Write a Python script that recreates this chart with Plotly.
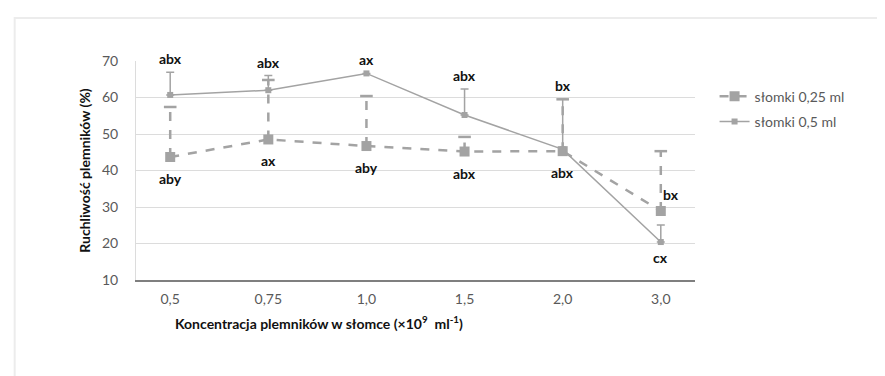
import plotly.graph_objects as go

# dane
stezenia = ["0,5", "0,75", "1,0", "1,5", "2,0", "3,0"]
slomki_025 = [43.7, 48.5, 46.7, 45.2, 45.3, 28.9]
blad_025 = [13.7, 16.3, 13.7, 4.0, 14.2, 16.4]
litery_025 = ["aby", "ax", "aby", "abx", "abx", "bx"]
slomki_05 = [60.7, 62.0, 66.6, 55.2, 45.8, 20.4]
blad_05 = [6.2, 4.0, 0.0, 7.1, 13.7, 4.7]
litery_05 = ["abx", "abx", "ax", "abx", "bx", "cx"]

szary = "#a3a3a3"
font = "Lato"

fig = go.Figure()

# słupki błędu dla 0,25 ml - przerywane
ex, ey = [], []
for k, v, e in zip(stezenia, slomki_025, blad_025):
    ex += [k, k, None]
    ey += [v, v + e, None]
fig.add_trace(go.Scatter(
    x=ex, y=ey, mode="lines", showlegend=False, hoverinfo="skip",
    line=dict(color=szary, width=2.5, dash="dash"),
))
fig.add_trace(go.Scatter(
    x=stezenia, y=[v + e for v, e in zip(slomki_025, blad_025)],
    mode="markers", showlegend=False, hoverinfo="skip",
    marker=dict(symbol="line-ew-open", size=9, color=szary, line=dict(width=2.5, color=szary)),
))

fig.add_trace(go.Scatter(
    x=stezenia, y=slomki_025, name="słomki 0,25 ml", mode="lines+markers",
    legendgroup="a",
    line=dict(color=szary, width=2.5, dash="dash"),
    marker=dict(symbol="square", size=10, color=szary),
))
fig.add_trace(go.Scatter(
    x=stezenia, y=slomki_05, name="słomki 0,5 ml", mode="lines+markers",
    legendgroup="b",
    line=dict(color=szary, width=1.5),
    marker=dict(symbol="square", size=6, color=szary),
    error_y=dict(type="data", array=blad_05, symmetric=False, arrayminus=[0] * 6,
                 color=szary, thickness=1.5, width=4),
))

# litery istotności
for i, (k, v, e, t) in enumerate(zip(stezenia, slomki_05, blad_05, litery_05)):
    if i == len(stezenia) - 1:
        fig.add_annotation(x=k, y=v, text=t, showarrow=False, yanchor="top", yshift=-5)
    else:
        fig.add_annotation(x=k, y=v + e, text=t, showarrow=False, yanchor="bottom", yshift=3)
for i, (k, v, t) in enumerate(zip(stezenia, slomki_025, litery_025)):
    if i == len(stezenia) - 1:
        fig.add_annotation(x=k, y=v, text=t, showarrow=False, xanchor="left", xshift=0, yshift=17)
    else:
        fig.add_annotation(x=k, y=v, text=t, showarrow=False, yanchor="top", yshift=-11)
fig.update_annotations(font=dict(family=font, size=14, color="#111111"))
for a in fig.layout.annotations:
    a.text = "<b>" + a.text + "</b>"

fig.add_annotation(
    xref="paper", yref="paper", x=0.327, y=-0.245, xanchor="center", showarrow=False,
    text="<b>Koncentracja plemników w słomce (×10<sup>9</sup>  ml<sup>-1</sup>)</b>",
    font=dict(family=font, size=14, color="#111111"),
)

# ramka
fig.add_shape(type="rect", xref="paper", yref="paper", x0=-0.217, x1=1.4, y0=-0.6, y1=1.196,
              line=dict(color="#ececec", width=2), layer="below")

fig.update_layout(
    width=885, height=376,
    margin=dict(l=128, r=198, t=53, b=104),
    plot_bgcolor="white", paper_bgcolor="white",
    font=dict(family=font, size=14, color="#595959"),
    showlegend=True,
    legend=dict(x=1.035, y=0.78, xanchor="left", yanchor="middle",
                font=dict(family=font, size=14, color="#595959"),
                bgcolor="rgba(0,0,0,0)", tracegroupgap=4),
    xaxis=dict(type="category", showgrid=False, showline=True, linecolor="#7f7f7f",
               linewidth=1.5, ticks="", ticklabelstandoff=5,
               tickfont=dict(family=font, size=14, color="#595959")),
    yaxis=dict(range=[10, 70], dtick=10, showgrid=True, gridcolor="#dcdcdc", gridwidth=1,
               showline=True, linecolor="#dcdcdc", linewidth=1, zeroline=False,
               ticks="", ticklabelstandoff=14,
               tickfont=dict(family=font, size=14, color="#595959"),
               title=dict(text="<b>Ruchliwość plemników (%)</b>", standoff=8,
                          font=dict(family=font, size=14, color="#111111"))),
)

fig.write_html("out.html")
